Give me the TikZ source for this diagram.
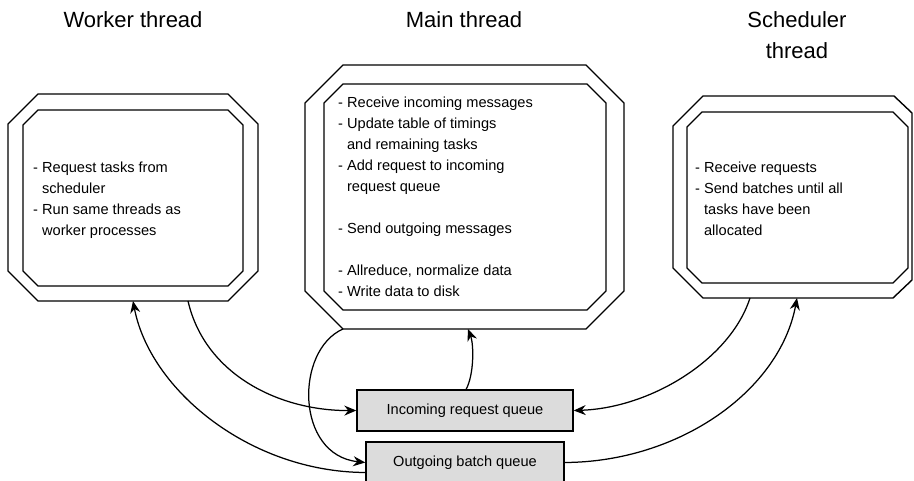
\documentclass[tikz,border=0pt]{standalone}
\usepackage{fontspec}
\setmainfont{Liberation Sans}
\usetikzlibrary{arrows.meta}
\definecolor{qgray}{RGB}{220,220,220}
\newcommand\bodyfnt{\fontsize{14.6}{21}\selectfont}
\newcommand\titlefnt{\fontsize{22}{31}\selectfont}
\newcommand\ind{\phantom{- }}
\newcommand\octo[5]{\draw[frame] (#1+#5,#2) -- (#3-#5,#2) -- (#3,#2+#5) -- (#3,#4-#5) -- (#3-#5,#4) -- (#1+#5,#4) -- (#1,#4-#5) -- (#1,#2+#5) -- cycle;}
\begin{document}
\begin{tikzpicture}[x=1pt,y=-1pt,
  frame/.style={line width=1.4pt, line join=miter},
  conn/.style={line width=1.25pt, -{Stealth[length=12pt,width=10pt,inset=4pt]}},
  queue/.style={draw, line width=1.4pt, fill=qgray, minimum height=41pt, inner sep=0pt, font=\bodyfnt},
  body/.style={anchor=north west, inner sep=0pt, align=left, font=\bodyfnt},
  title/.style={anchor=north, inner sep=0pt, align=center, font=\titlefnt}]
\useasboundingbox (0,0) rectangle (914,481);

% titles
\node[title] (twk) at (133,11) {Worker thread};
\node[title] (tmn) at (464,11) {Main thread};
\node[title] (tsc) at (797,11) {Scheduler\\thread};

% worker octagons
\octo{8}{94}{258}{301}{30}
\octo{23}{110}{243}{286}{15}
% main octagons
\octo{305}{65}{624}{329}{38}
\octo{324}{84}{606}{310}{19}
% scheduler octagons
\draw[frame] (703,96) -- (894,96) -- (912,113) -- (912,280) -- (893,298) -- (703,298) -- (673,268) -- (673,126) -- cycle;
\octo{687}{112}{908}{283}{15}

% texts
\node[body] (bwk) at (33,161.5) {- Request tasks from\\\ind scheduler\\- Run same threads as\\\ind worker processes};
\node[body] (bmn) at (338,96.5) {- Receive incoming messages\\- Update table of timings\\\ind and remaining tasks\\- Add request to incoming\\\ind request queue\\[21pt]- Send outgoing messages\\[21pt]- Allreduce, normalize data\\- Write data to disk};
\node[body] (bsc) at (695,161.5) {- Receive requests\\- Send batches until all\\\ind tasks have been\\\ind allocated};

% queues
\node[queue, minimum width=216pt] (inq) at (465,410.5) {Incoming request queue};
\node[queue, minimum width=198pt] (outq) at (465,462.5) {Outgoing batch queue};

% connector end points on the frames
\coordinate (wkA) at (188,301);
\coordinate (wkB) at (133,301);
\coordinate (mnA) at (343,329);
\coordinate (mnB) at (468,329);
\coordinate (scA) at (750,298);
\coordinate (scB) at (797,298);

% connectors
\draw[conn] (wkA) .. controls (205,375) and (280,411) .. (inq.west);
\draw[conn] ([yshift=-10pt]outq.west) .. controls (250,472) and (150,390) .. (wkB);
\draw[conn] (mnA) .. controls (295,350) and (295,455) .. (outq.west);
\draw[conn] (466,389.5) .. controls (474,375) and (474,345) .. (mnB);
\draw[conn] (scA) .. controls (730,360) and (650,408) .. (inq.east);
\draw[conn] (outq.east) .. controls (680,462) and (780,390) .. (scB);
\end{tikzpicture}
\end{document}
